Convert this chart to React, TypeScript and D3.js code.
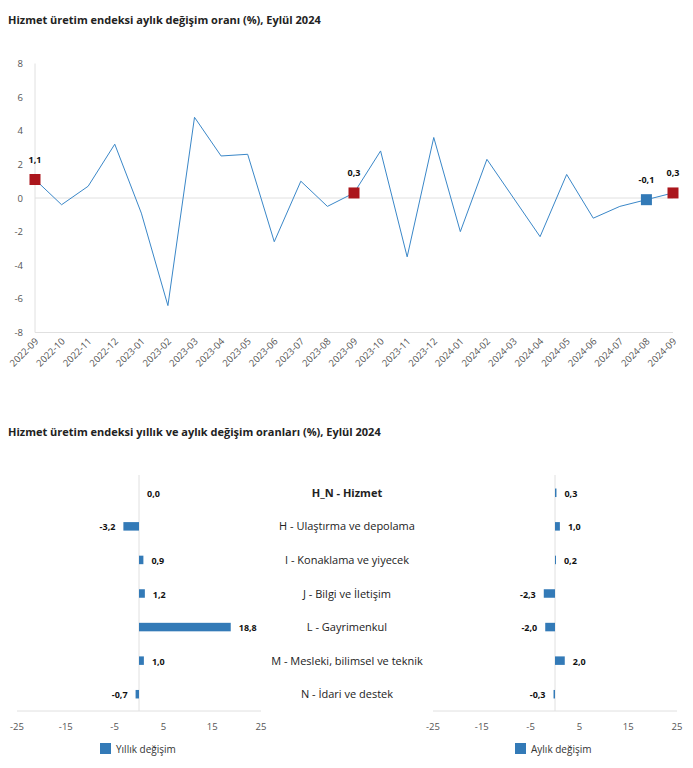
import React from "react";
import * as d3 from "d3";

const months = [
  "2022-09","2022-10","2022-11","2022-12","2023-01","2023-02","2023-03","2023-04","2023-05","2023-06","2023-07","2023-08","2023-09",
  "2023-10","2023-11","2023-12","2024-01","2024-02","2024-03","2024-04","2024-05","2024-06","2024-07","2024-08","2024-09",
];
const monthlyValues = [1.1,-0.4,0.7,3.2,-0.9,-6.4,4.8,2.5,2.6,-2.6,1.0,-0.5,0.3,2.8,-3.5,3.6,-2.0,2.3,0.0,-2.3,1.4,-1.2,-0.5,-0.1,0.3];
const redMarkers = ["2022-09","2023-09","2024-09"];
const blueMarkers = ["2024-08"];
const yTicks = [-8,-6,-4,-2,0,2,4,6,8];

const sectors = [
  "H_N - Hizmet",
  "H - Ulaştırma ve depolama",
  "I - Konaklama ve yiyecek",
  "J - Bilgi ve İletişim",
  "L - Gayrimenkul",
  "M - Mesleki, bilimsel ve teknik",
  "N - İdari ve destek",
];
const annualChange = [0.0,-3.2,0.9,1.2,18.8,1.0,-0.7];
const monthlyChange = [0.3,1.0,0.2,-2.3,-2.0,2.0,-0.3];
const barTicks = [-25,-15,-5,5,15,25];

const FONT = "'Open Sans', 'Noto Sans', sans-serif";
const BLUE = "#337ab7";
const LINE = "#3a87c8";
const RED = "#ab161c";
const GRID = "#e0e0e0";
const TICK = "#555";

const fmt = (v: number) => v.toFixed(1).replace(".", ",");

function LineChart() {
  const x = d3.scalePoint<string>().domain(months).range([35, 673]);
  const y = d3.scaleLinear().domain([-8, 8]).range([332.5, 63.5]);
  const line = d3.line<number>().x((_, i) => x(months[i])!).y((d) => y(d));
  const markers = [...redMarkers.map((m) => ({ m, c: RED })), ...blueMarkers.map((m) => ({ m, c: BLUE }))];
  return (
    <g>
      <line x1={35} x2={35} y1={y(8)} y2={y(-8)} stroke={GRID} />
      <line x1={35} x2={673} y1={y(-8)} y2={y(-8)} stroke={GRID} />
      <line x1={35} x2={673} y1={y(0)} y2={y(0)} stroke={GRID} />
      {yTicks.map((t) => (
        <text key={t} x={23} y={y(t) + 3.5} textAnchor="end" fontSize={9.5} fill={TICK} fontFamily={FONT}>{t}</text>
      ))}
      {months.map((m) => (
        <text key={m} transform={`translate(${x(m)! + 4},${342}) rotate(-45)`} textAnchor="end" fontSize={9.5} fill={TICK} fontFamily={FONT}>{m}</text>
      ))}
      <path d={line(monthlyValues)!} fill="none" stroke={LINE} strokeWidth={1} />
      {markers.map(({ m, c }) => {
        const i = months.indexOf(m);
        const cx = x(m)!;
        const cy = y(monthlyValues[i]);
        return (
          <g key={m}>
            <rect x={cx - 5.5} y={cy - 5.5} width={11} height={11} fill={c} />
            <text x={cx} y={cy - 17} textAnchor="middle" fontSize={9} fontWeight="bold" fill="#111" fontFamily={FONT}>{fmt(monthlyValues[i])}</text>
          </g>
        );
      })}
    </g>
  );
}

function BarPanel({ values, x0, x1, legend, lx }: { values: number[]; x0: number; x1: number; legend: string; lx: number }) {
  const x = d3.scaleLinear().domain([-25, 25]).range([x0, x1]);
  const y = d3.scaleBand<string>().domain(sectors).range([476, 711]);
  const bh = 8.5;
  return (
    <g>
      <line x1={x(0)} x2={x(0)} y1={475} y2={711} stroke={GRID} />
      <line x1={x0} x2={x1} y1={711} y2={711} stroke={GRID} />
      {barTicks.map((t) => (
        <text key={t} x={x(t)} y={730} textAnchor="middle" fontSize={9.5} fill={TICK} fontFamily={FONT}>{t}</text>
      ))}
      {sectors.map((s, i) => {
        const v = values[i];
        const cy = y(s)! + y.bandwidth() / 2;
        const xa = x(Math.min(0, v));
        const w = Math.abs(x(v) - x(0));
        return (
          <g key={s}>
            <rect x={xa} y={cy - bh / 2} width={w} height={bh} fill={BLUE} />
            <text x={v >= 0 ? x(v) + 8 : x(v) - 8} y={cy + 4} textAnchor={v >= 0 ? "start" : "end"} fontSize={9} fontWeight="bold" fill="#111" fontFamily={FONT}>{fmt(v)}</text>
          </g>
        );
      })}
      <rect x={lx} y={743} width={11} height={11} fill={BLUE} />
      <text x={lx + 16} y={752.5} fontSize={10} fill="#333" fontFamily={FONT}>{legend}</text>
    </g>
  );
}

export default function App() {
  const y = d3.scaleBand<string>().domain(sectors).range([476, 711]);
  return (
    <svg width={693} height={768} style={{ position: "absolute", left: 0, top: 0, background: "#fff" }}>
      <text x={8} y={24} fontSize={11} fontWeight="bold" fill="#222" fontFamily={FONT}>Hizmet üretim endeksi aylık değişim oranı (%), Eylül 2024</text>
      <LineChart />
      <text x={8} y={436} fontSize={11} fontWeight="bold" fill="#222" fontFamily={FONT}>Hizmet üretim endeksi yıllık ve aylık değişim oranları (%), Eylül 2024</text>
      <BarPanel values={annualChange} x0={17} x1={261} legend="Yıllık değişim" lx={100} />
      <BarPanel values={monthlyChange} x0={433} x1={677} legend="Aylık değişim" lx={515} />
      {sectors.map((s, i) => (
        <text key={s} x={347} y={y(s)! + y.bandwidth() / 2 + 4} textAnchor="middle" fontSize={11} fontWeight={i === 0 ? "bold" : "normal"} fill="#222" fontFamily={FONT}>{s}</text>
      ))}
    </svg>
  );
}
